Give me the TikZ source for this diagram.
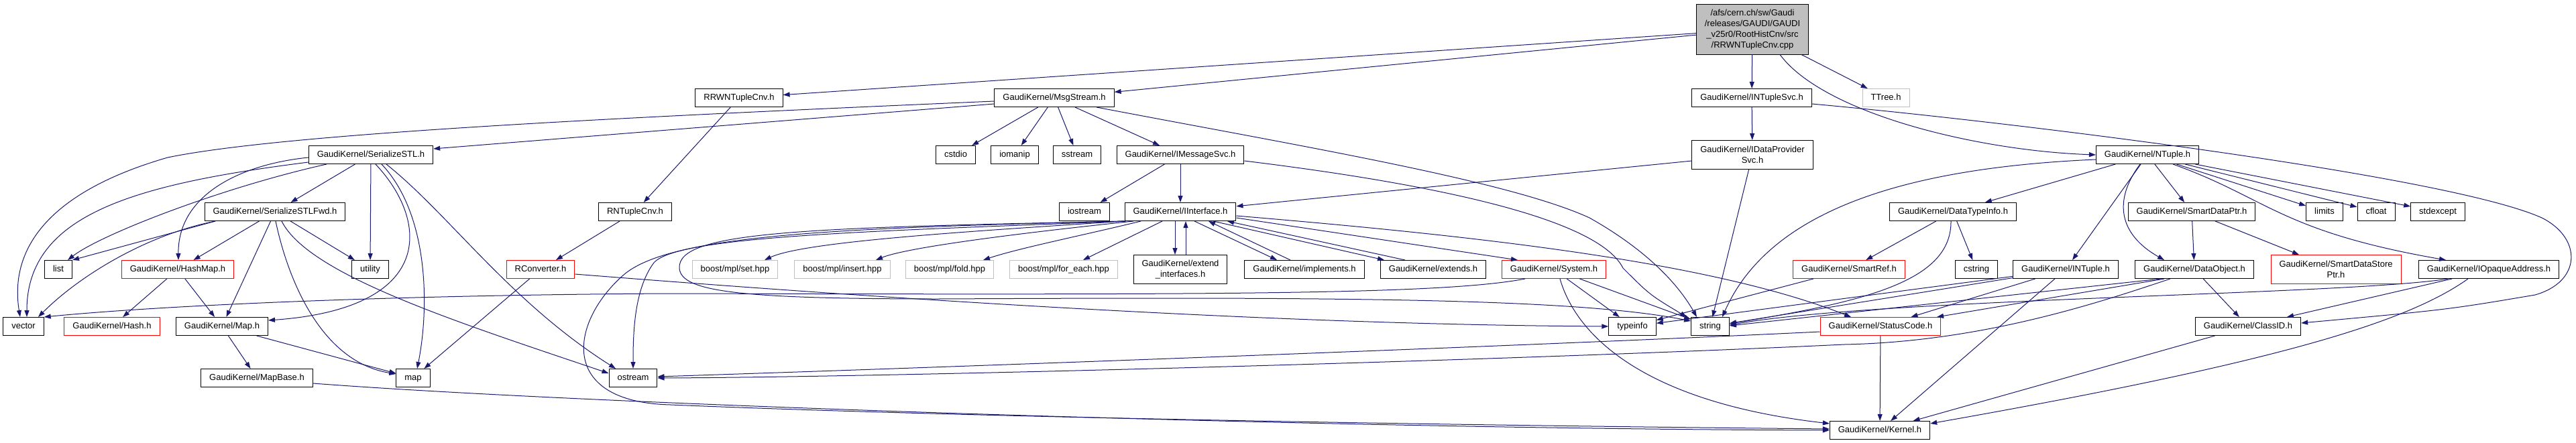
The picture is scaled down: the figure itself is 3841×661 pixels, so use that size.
\documentclass[tikz,border=0pt]{standalone}
\usepackage{fontspec}
\setmainfont{Liberation Sans}
\usetikzlibrary{arrows.meta}
\definecolor{enlace}{HTML}{191970}
\definecolor{gris}{HTML}{BFBFBF}
\begin{document}
\begin{tikzpicture}[x=1pt, y=-1pt,
		archivo/.style={draw, line width=1pt, fill=white, font=\fontsize{13}{16}\selectfont, inner xsep=12.5pt, inner ysep=0pt, minimum height=27pt, text height=9.5pt, text depth=2.5pt},
		archivodos/.style={draw, line width=1pt, fill=white, font=\fontsize{13}{16}\selectfont, inner xsep=12.5pt, inner ysep=0pt, minimum height=43pt, align=center},
		raiz/.style={archivodos, fill=gris, minimum height=74pt},
		incompleto/.style={draw=red},
		externo/.style={draw=gris},
		flecha/.style={draw=enlace, line width=1pt, -{Triangle[length=10pt,width=7pt]}}]
	% Fondo
		\path[use as bounding box, fill=white] (0,0) rectangle (3841,661);
	% Archivos
		% Archivo principal
			\node[raiz] (root) at (2613,44) {/afs/cern.ch/sw/Gaudi\\/releases/GAUDI/GAUDI\\\_v25r0/RootHistCnv/src\\/RRWNTupleCnv.cpp};
		% Nivel 1
			\node[archivo] (rrwn) at (1102,146) {RRWNTupleCnv.h};
			\node[archivo] (msgstream) at (1572,146) {GaudiKernel/MsgStream.h};
			\node[archivo] (ntuplesvc) at (2612,146) {GaudiKernel/INTupleSvc.h};
			\node[archivo, externo] (ttree) at (2812,146) {TTree.h};
		% Nivel 2
			\node[archivo] (serstl) at (553,231) {GaudiKernel/SerializeSTL.h};
			\node[archivo] (cstdio) at (1425,231) {cstdio};
			\node[archivo] (iomanip) at (1513,231) {iomanip};
			\node[archivo] (sstream) at (1606,231) {sstream};
			\node[archivo] (imsgsvc) at (1760,231) {GaudiKernel/IMessageSvc.h};
			\node[archivodos] (idatasvc) at (2613,231) {GaudiKernel/IDataProvider\\Svc.h};
			\node[archivo] (ntuple) at (3202,231) {GaudiKernel/NTuple.h};
		% Nivel 3
			\node[archivo] (serfwd) at (410,316) {GaudiKernel/SerializeSTLFwd.h};
			\node[archivo] (rntuple) at (947,316) {RNTupleCnv.h};
			\node[archivo] (iostream) at (1617,316) {iostream};
			\node[archivo] (iinterface) at (1760,316) {GaudiKernel/IInterface.h};
			\node[archivo] (dtinfo) at (2912,316) {GaudiKernel/DataTypeInfo.h};
			\node[archivo] (sdptr) at (3268,316) {GaudiKernel/SmartDataPtr.h};
			\node[archivo] (limits) at (3466,316) {limits};
			\node[archivo] (cfloat) at (3543,316) {cfloat};
			\node[archivo] (stdexcept) at (3635,316) {stdexcept};
		% Nivel 4
			\node[archivo] (list) at (87,402) {list};
			\node[archivo, incompleto] (hashmap) at (265,402) {GaudiKernel/HashMap.h};
			\node[archivo] (utility) at (552,402) {utility};
			\node[archivo, incompleto] (rconv) at (806,402) {RConverter.h};
			\node[archivo, externo] (mplset) at (1096,402) {boost/mpl/set.hpp};
			\node[archivo, externo] (mplinsert) at (1256,402) {boost/mpl/insert.hpp};
			\node[archivo, externo] (mplfold) at (1416,402) {boost/mpl/fold.hpp};
			\node[archivo, externo] (mplforeach) at (1586,402) {boost/mpl/for\_each.hpp};
			\node[archivodos] (extifc) at (1760,402) {GaudiKernel/extend\\\_interfaces.h};
			\node[archivo] (implements) at (1945,402) {GaudiKernel/implements.h};
			\node[archivo] (extends) at (2137,402) {GaudiKernel/extends.h};
			\node[archivo, incompleto] (system) at (2317,402) {GaudiKernel/System.h};
			\node[archivo, incompleto] (smartref) at (2757,402) {GaudiKernel/SmartRef.h};
			\node[archivo] (cstring) at (2947,402) {cstring};
			\node[archivo] (intuple) at (3080,402) {GaudiKernel/INTuple.h};
			\node[archivo] (dataobj) at (3272,402) {GaudiKernel/DataObject.h};
			\node[archivodos, incompleto] (sdsptr) at (3483,402) {GaudiKernel/SmartDataStore\\Ptr.h};
			\node[archivo] (opaque) at (3711,402) {GaudiKernel/IOpaqueAddress.h};
		% Nivel 5
			\node[archivo] (vector) at (35,487) {vector};
			\node[archivo, incompleto] (hash) at (167,487) {GaudiKernel/Hash.h};
			\node[archivo] (gkmap) at (331,487) {GaudiKernel/Map.h};
			\node[archivo] (typeinfo) at (2434,487) {typeinfo};
			\node[archivo] (string) at (2550,487) {string};
			\node[archivo, incompleto] (statuscode) at (2804,487) {GaudiKernel/StatusCode.h};
			\node[archivo] (classid) at (3352,487) {GaudiKernel/ClassID.h};
		% Nivel 6
			\node[archivo] (mapbase) at (383,564) {GaudiKernel/MapBase.h};
			\node[archivo] (map) at (616,564) {map};
			\node[archivo] (ostream) at (944,564) {ostream};
		% Nivel 7
			\node[archivo] (kernel) at (2803,642) {GaudiKernel/Kernel.h};
	% Dependencias
		% Archivo principal
			\draw[flecha] (root) -- (rrwn);
			\draw[flecha] (root) -- (msgstream);
			\draw[flecha] (root) -- (ntuplesvc);
			\draw[flecha] (root) -- (ttree);
			\draw[flecha] ([xshift=41]root.south) .. controls (2720,170) and (2950,225) .. (ntuple.west);
		% RRWNTupleCnv.h y RNTupleCnv.h
			\draw[flecha] (rrwn) -- (rntuple);
			\draw[flecha] (rntuple) -- (rconv);
			\draw[flecha] (rconv) -- (map);
			\draw[flecha] ([yshift=-7]rconv.east) .. controls (1500,460) and (2000,485) .. (typeinfo.west);
		% MsgStream.h
			\draw[flecha] (msgstream) -- (cstdio);
			\draw[flecha] (msgstream) -- (iomanip);
			\draw[flecha] (msgstream) -- (sstream);
			\draw[flecha] (msgstream) -- (imsgsvc);
			\draw[flecha] ([yshift=-9]msgstream.west) -- ([yshift=9]serstl.east);
			\draw[flecha] ([yshift=-5]msgstream.west) .. controls (900,176) and (420,200) .. (250,235) .. controls (60,290) and (15,380) .. ([xshift=-5]vector.north);
			\draw[flecha] ([xshift=63]msgstream.south) .. controls (1950,220) and (2250,270) .. (2370,325) .. controls (2450,370) and (2500,420) .. ([xshift=-20]string.north);
		% IMessageSvc.h
			\draw[flecha] (imsgsvc) -- (iostream);
			\draw[flecha] (imsgsvc) -- (iinterface);
			\draw[flecha] ([yshift=-9]imsgsvc.east) .. controls (2100,270) and (2380,320) .. (2420,400) .. controls (2460,440) .. ([xshift=-35]string.north);
		% INTupleSvc.h
			\draw[flecha] (ntuplesvc) -- (idatasvc);
			\draw[flecha] ([yshift=-9]ntuplesvc.east) .. controls (3000,182) and (3650,262) .. (3790,325) .. controls (3850,355) and (3850,420) .. (3780,440) .. controls (3650,462) .. ([yshift=5]classid.east);
		% IDataProviderSvc.h
			\draw[flecha] (idatasvc) -- (iinterface);
			\draw[flecha] (idatasvc) -- (string);
		% NTuple.h
			\draw[flecha] (ntuple) -- (dtinfo);
			\draw[flecha] (ntuple) -- (sdptr);
			\draw[flecha] (ntuple) -- (limits);
			\draw[flecha] (ntuple) -- (cfloat);
			\draw[flecha] (ntuple) -- (stdexcept);
			\draw[flecha] (ntuple) -- (intuple);
			\draw[flecha] ([xshift=-11]ntuple.south) .. controls (3150,300) and (3160,350) .. ([xshift=-45]dataobj.north);
			\draw[flecha] ([xshift=38]ntuple.south) .. controls (3380,295) and (3400,345) .. ([xshift=-64]opaque.north);
			\draw[flecha] ([yshift=-7]ntuple.west) .. controls (2850,250) and (2640,310) .. ([xshift=18]string.north);
		% DataTypeInfo.h
			\draw[flecha] (dtinfo) -- (smartref);
			\draw[flecha] (dtinfo) -- (cstring);
			\draw[flecha] ([xshift=-3]dtinfo.south) .. controls (2910,420) and (2780,450) .. ([yshift=4]string.east);
		% SmartDataPtr.h y SmartRef.h
			\draw[flecha] (sdptr) -- (dataobj);
			\draw[flecha] (sdptr) -- (sdsptr);
			\draw[flecha] (smartref) -- (typeinfo);
		% INTuple.h
			\draw[flecha] (intuple) -- (typeinfo);
			\draw[flecha] (intuple) -- (string);
			\draw[flecha] (intuple) -- (statuscode);
			\draw[flecha] (intuple) -- (kernel);
		% DataObject.h
			\draw[flecha] ([xshift=-50]dataobj.south) -- ([yshift=1]string.east);
			\draw[flecha] ([xshift=-45]dataobj.south) -- ([xshift=84]statuscode.north);
			\draw[flecha] (dataobj) -- (classid);
			\draw[flecha] ([xshift=-36]dataobj.south) .. controls (3120,455) and (2950,510) .. (2750,514) .. controls (2200,540) and (1300,563) .. (ostream.east);
		% StatusCode.h
			\draw[flecha] (statuscode) -- (kernel);
			\draw[flecha] ([yshift=-8]statuscode.west) .. controls (2300,515) and (1500,545) .. ([yshift=2]ostream.east);
		% IOpaqueAddress.h y ClassID.h
			\draw[flecha] ([xshift=-61]opaque.south) .. controls (3500,440) and (2800,445) .. ([yshift=2]string.east);
			\draw[flecha] ([xshift=-55]opaque.south) -- ([xshift=58]classid.north);
			\draw[flecha] ([xshift=-31]opaque.south) .. controls (3590,480) and (3400,540) .. ([yshift=-4]kernel.north east);
			\draw[flecha] (classid) -- (kernel);
		% System.h
			\draw[flecha] (system) -- (typeinfo);
			\draw[flecha] (system) -- (string);
			\draw[flecha] ([xshift=9]system.south) .. controls (2350,500) and (2450,600) .. ([yshift=10]kernel.west);
			\draw[flecha] ([xshift=-43]system.south) .. controls (2150,440) and (1800,440) .. (1000,438) .. controls (600,440) and (250,455) .. (vector.north east);
		% IInterface.h
			% Hacia abajo
				\draw[flecha] ([xshift=-84]iinterface.south) .. controls (1450,345) and (1200,360) .. ([xshift=44]mplset.north);
				\draw[flecha] ([xshift=-70]iinterface.south) .. controls (1500,350) and (1350,370) .. ([xshift=50]mplinsert.north);
				\draw[flecha] ([xshift=-59]iinterface.south) .. controls (1620,350) and (1520,370) .. ([xshift=50]mplfold.north);
				\draw[flecha] ([xshift=-27]iinterface.south) -- ([xshift=29]mplforeach.north);
				\draw[flecha] ([xshift=-8]iinterface.south) -- ([xshift=-8]extifc.north);
				\draw[flecha] ([xshift=21]iinterface.south) -- ([xshift=-41]implements.north);
				\draw[flecha] ([xshift=49]iinterface.south) -- ([xshift=-73]extends.north);
				\draw[flecha] ([yshift=-9]iinterface.east) -- ([xshift=-54]system.north);
				\draw[flecha] ([yshift=-6]iinterface.east) .. controls (2200,352) and (2550,390) .. ([xshift=-44]statuscode.north);
			% Hacia arriba
				\draw[flecha] ([xshift=8]extifc.north) -- ([xshift=8]iinterface.south);
				\draw[flecha] ([xshift=-21]implements.north) -- ([xshift=42]iinterface.south);
				\draw[flecha] ([xshift=-42]extends.north) -- ([xshift=70]iinterface.south);
			% Rodeos por la izquierda
				\draw[flecha] ([xshift=-82]iinterface.south) .. controls (1300,345) and (1010,352) .. (975,392) .. controls (945,432) and (944,500) .. (ostream.north);
				\draw[flecha] ([xshift=-82]iinterface.south) .. controls (1200,340) and (1010,345) .. (1013,400) .. controls (1015,435) and (1100,446) .. (1400,446) .. controls (2000,443) and (2350,445) .. ([yshift=-6]string.north west);
				\draw[flecha] ([xshift=-82]iinterface.south) .. controls (1250,340) and (1000,350) .. (930,410) .. controls (850,480) and (830,600) .. (1000,604) .. controls (1500,625) and (2300,636) .. ([yshift=2]kernel.west);
		% SerializeSTL.h
			\draw[flecha] (serstl) -- (serfwd);
			\draw[flecha] (serstl) -- (utility);
			\draw[flecha] ([yshift=-4]serstl.west) .. controls (360,245) and (265,290) .. ([xshift=1]hashmap.north);
			\draw[flecha] ([yshift=-11]serstl.west) .. controls (200,275) and (40,320) .. ([xshift=5]vector.north);
			\draw[flecha] ([xshift=-66]serstl.south) .. controls (330,280) and (150,350) .. ([xshift=14]list.north);
			\draw[flecha] ([xshift=7]serstl.south) .. controls (640,330) and (650,460) .. ([yshift=9]gkmap.east);
			\draw[flecha] ([xshift=16]serstl.south) .. controls (640,320) and (640,460) .. ([xshift=6]map.north);
			\draw[flecha] ([xshift=23]serstl.south) .. controls (670,320) and (760,450) .. ([xshift=-26]ostream.north);
		% SerializeSTLFwd.h
			\draw[flecha] (serfwd) -- (hashmap);
			\draw[flecha] (serfwd) -- (gkmap);
			\draw[flecha] (serfwd) -- (utility);
			\draw[flecha] ([xshift=-89]serfwd.south) -- (list.north east);
			\draw[flecha] ([xshift=-89]serfwd.south) .. controls (220,350) and (120,410) .. ([xshift=22]vector.north);
			\draw[flecha] ([xshift=1]serfwd.south) .. controls (430,420) and (480,540) .. ([yshift=6]map.west);
			\draw[flecha] ([xshift=10]serfwd.south) .. controls (460,410) and (680,480) .. ([yshift=7]ostream.west);
		% HashMap.h, Map.h y MapBase.h
			\draw[flecha] (hashmap) -- (hash);
			\draw[flecha] (hashmap) -- (gkmap);
			\draw[flecha] (gkmap) -- (mapbase);
			\draw[flecha] (gkmap) -- (map);
			\draw[flecha] ([yshift=-8]mapbase.east) .. controls (900,605) and (2000,640) .. (kernel.west);
\end{tikzpicture}
\end{document}
